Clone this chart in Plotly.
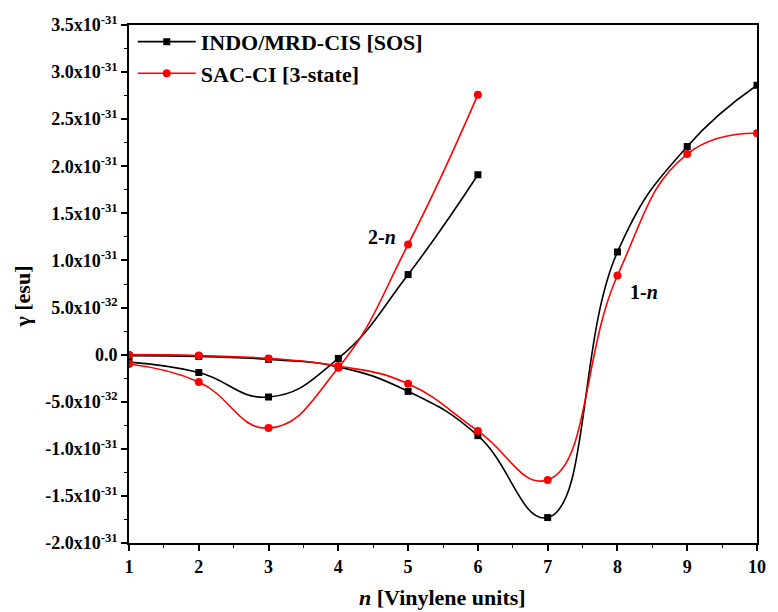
import plotly.graph_objects as go

# ---- data (gamma values in units of 1e-31 esu) ----
n_long = [1, 2, 3, 4, 5, 6, 7, 8, 9, 10]
n_short = [1, 2, 3, 4, 5, 6]

indo_1n = [-0.01, -0.02, -0.05, -0.13, -0.39, -0.86, -1.73, 1.09, 2.21, 2.86]
sac_1n = [0.00, -0.01, -0.04, -0.12, -0.31, -0.81, -1.33, 0.84, 2.13, 2.35]
indo_2n = [-0.08, -0.19, -0.45, -0.04, 0.85, 1.91]
sac_2n = [-0.10, -0.29, -0.78, -0.14, 1.17, 2.76]

series_names = ["INDO/MRD-CIS [SOS]", "SAC-CI [3-state]"]

y_tickvals = [3.5, 3.0, 2.5, 2.0, 1.5, 1.0, 0.5, 0.0, -0.5, -1.0, -1.5, -2.0]
y_ticktext = ["3.5x10<sup>-31</sup>", "3.0x10<sup>-31</sup>", "2.5x10<sup>-31</sup>",
              "2.0x10<sup>-31</sup>", "1.5x10<sup>-31</sup>", "1.0x10<sup>-31</sup>",
              "5.0x10<sup>-32</sup>", "0.0", "-5.0x10<sup>-32</sup>",
              "-1.0x10<sup>-31</sup>", "-1.5x10<sup>-31</sup>", "-2.0x10<sup>-31</sup>"]
x_tickvals = [1, 2, 3, 4, 5, 6, 7, 8, 9, 10]

FONT = "Liberation Serif"
BLACK = "#000000"
RED = "#ff0000"

fig = go.Figure()

def add(x, y, color, symbol, size, name, group, show):
    fig.add_trace(go.Scatter(
        x=x, y=y, mode="lines+markers", name=name,
        legendgroup=group, showlegend=show,
        line=dict(color=color, width=1.6, shape="spline", smoothing=1.3),
        marker=dict(color=color, symbol=symbol, size=size),
    ))

add(n_long, indo_1n, BLACK, "square", 7, series_names[0], "indo", True)
add(n_short, indo_2n, BLACK, "square", 7, series_names[0], "indo", False)
add(n_long, sac_1n, RED, "circle", 8, series_names[1], "sac", True)
add(n_short, sac_2n, RED, "circle", 8, series_names[1], "sac", False)

W, H = 778, 612
L, R, T, B = 129, 12, 25, 69
pw, ph = W - L - R, H - T - B

fig.update_layout(
    width=W, height=H,
    margin=dict(l=L, r=R, t=T, b=B),
    paper_bgcolor="white", plot_bgcolor="white",
    font=dict(family=FONT, color="black", weight="bold"),
    showlegend=True,
    legend=dict(
        x=0.006, y=1.008, xanchor="left", yanchor="top",
        bgcolor="rgba(0,0,0,0)", borderwidth=0,
        font=dict(family=FONT, size=22, color="black", weight="bold"),
        traceorder="grouped", tracegroupgap=0, itemwidth=58,
    ),
    xaxis=dict(
        range=[1, 10], tickmode="array", tickvals=x_tickvals,
        ticks="outside", ticklen=6, tickwidth=1.5, tickcolor="black",
        showline=True, linecolor="black", linewidth=1.8, mirror=True,
        showgrid=False, zeroline=False,
        tickfont=dict(family=FONT, size=18, color="black", weight="bold"),
        minor=dict(tickmode="linear", tick0=1, dtick=0.5, ticks="outside",
                   ticklen=3, tickwidth=1.2, tickcolor="black", showgrid=False),
    ),
    yaxis=dict(
        range=[-2.0, 3.5], tickmode="array", tickvals=y_tickvals, ticktext=y_ticktext,
        ticks="outside", ticklen=6, tickwidth=1.5, tickcolor="black",
        showline=True, linecolor="black", linewidth=1.8, mirror=True,
        showgrid=False, zeroline=False,
        tickfont=dict(family=FONT, size=18, color="black", weight="bold"),
        minor=dict(tickmode="linear", tick0=-2.0, dtick=0.25, ticks="outside",
                   ticklen=3, tickwidth=1.2, tickcolor="black", showgrid=False),
    ),
)

annos = [
    dict(text="<b>2-<i>n</i></b>", x=4.63, y=1.25, xref="x", yref="y",
         showarrow=False, font=dict(family=FONT, size=20, color="black")),
    dict(text="<b>1-<i>n</i></b>", x=8.375, y=0.66, xref="x", yref="y",
         showarrow=False, font=dict(family=FONT, size=20, color="black")),
    dict(text="<b><i>n</i> [Vinylene units]</b>", x=(446.5 - L) / pw, y=(H - B - 597) / ph,
         xref="paper", yref="paper", xanchor="center", yanchor="middle",
         showarrow=False, font=dict(family=FONT, size=22, color="black")),
    dict(text="<b>γ [esu]</b>", x=(20 - L) / pw, y=(H - B - 297) / ph,
         xref="paper", yref="paper", xanchor="center", yanchor="middle",
         textangle=-90, showarrow=False, font=dict(family=FONT, size=22, color="black")),
]
fig.update_layout(annotations=annos)

fig.write_html("out.html")
